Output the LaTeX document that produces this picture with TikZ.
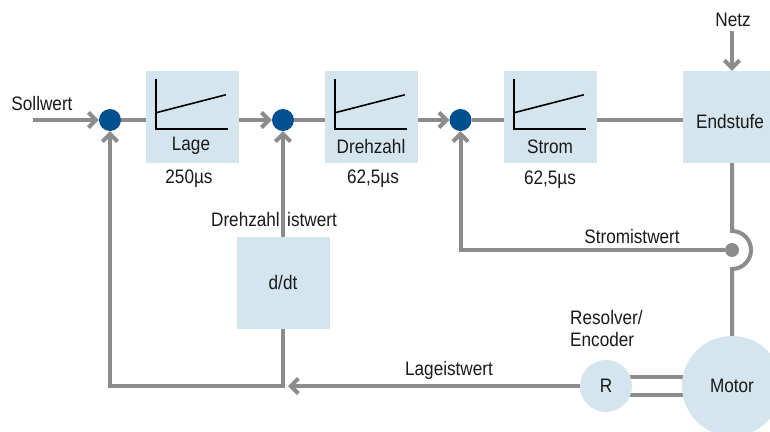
\documentclass[tikz,border=0pt]{standalone}
\usepackage{fontspec}
\setmainfont[FakeStretch=0.88]{Liberation Sans}
\usetikzlibrary{arrows.meta,backgrounds}
\definecolor{lgray}{HTML}{8C8C8C}
\definecolor{dblue}{HTML}{00508F}
\definecolor{lblue}{HTML}{D4E5ED}
\definecolor{txt}{HTML}{1A1A1A}
\begin{document}
\begin{tikzpicture}[x=1pt,y=-1pt,
  every node/.style={font=\fontsize{19.5}{22}\selectfont,text=txt,inner sep=0pt},
  blk/.style={fill=lblue,minimum width=93pt,minimum height=92pt},
  sumpt/.style={circle,fill=dblue,minimum size=22pt},
  conn/.style={draw=lgray,line width=4pt},
  arr/.style={conn,-{Straight Barb[length=7.5pt,width=15pt]}},
  axisline/.style={draw=black,line width=1.6pt}]
\useasboundingbox (0,0) rectangle (770,431);
% nodes
\node[sumpt] (c1) at (110,120) {};
\node[sumpt] (c2) at (283,120) {};
\node[sumpt] (c3) at (460.5,120) {};
\node[blk] (lage) at (192.5,117) {};
\node[blk] (dreh) at (371.5,117) {};
\node[blk] (strom) at (550.5,117) {};
\node[blk] (endst) at (729.5,117) {};
\node (tend) at (730,122) {Endstufe};
\node[blk] (ddt) at (283,283) {d/dt};
\node[circle,fill=lblue,minimum size=52pt] (R) at (606,386) {R};
\node[circle,fill=lblue,minimum size=100pt] (motor) at (732,386) {Motor};
\node[circle,fill=lgray,minimum size=14pt] (sdot) at (732,250) {};
\coordinate (sollstart) at (33,120);
\coordinate (netz0) at (732,31);
\coordinate (hoptop) at (732,231);
\coordinate (hopbot) at (732,269);
\coordinate (fbcorner) at (110,386);
\coordinate (lagetip) at (288,386);
% labels
\node (tlage) at (191,146) {Lage};
\node (tdreh) at (371,147) {Drehzahl};
\node (tstrom) at (550,147) {Strom};
\node (t1) at (189,179) {250µs};
\node (t2) at (373,179) {62,5µs};
\node (t3) at (550,180) {62,5µs};
\node (tsoll) at (42,104) {Sollwert};
\node (tnetz) at (733,20) {Netz};
\node[anchor=east] (tdi1) at (280,220) {Drehzahl};
\node[anchor=west] (tdi2) at (287,220) {istwert};
\node (tsi) at (632,237) {Stromistwert};
\node[anchor=west,align=left] (tres) at (570,329) {Resolver/\\Encoder};
\node (tlag) at (449,370) {Lageistwert};
% ramps
\foreach \b in {lage,dreh,strom}{
  \draw[axisline] ([shift={(10,8)}]\b.north west) |- ([shift={(82,58)}]\b.north west);
  \draw[axisline] ([shift={(10,42)}]\b.north west) -- ([shift={(80,24)}]\b.north west);
}
% connectors
\begin{scope}[on background layer]
\fill[white] (0,0) rectangle (770,431);
\draw[arr] (sollstart) -- (c1);
\draw[conn] (c1) -- (c1 -| lage.west);
\draw[arr] (lage.east |- c2) -- (c2);
\draw[conn] (c2) -- (c2 -| dreh.west);
\draw[arr] (dreh.east |- c3) -- (c3);
\draw[conn] (c3) -- (c3 -| strom.west);
\draw[conn] (strom.east |- c3) -- (c3 -| endst.west);
\draw[arr] (netz0) -- (netz0 |- endst.north);
\draw[conn] (hoptop |- endst.south) -- (hoptop) arc[start angle=90,end angle=-90,radius=19pt] -- (hopbot |- motor.north);
\draw[arr] (sdot) -| (c3);
\draw[arr] (ddt) -- (c2);
\draw[arr] (ddt) |- (fbcorner) -- (c1);
\draw[arr] (R) -- (lagetip);
\draw[conn] ([yshift=9pt]R.center) -- ([yshift=9pt]motor.center);
\draw[conn] ([yshift=-9pt]R.center) -- ([yshift=-9pt]motor.center);
\end{scope}
\end{tikzpicture}
\end{document}
